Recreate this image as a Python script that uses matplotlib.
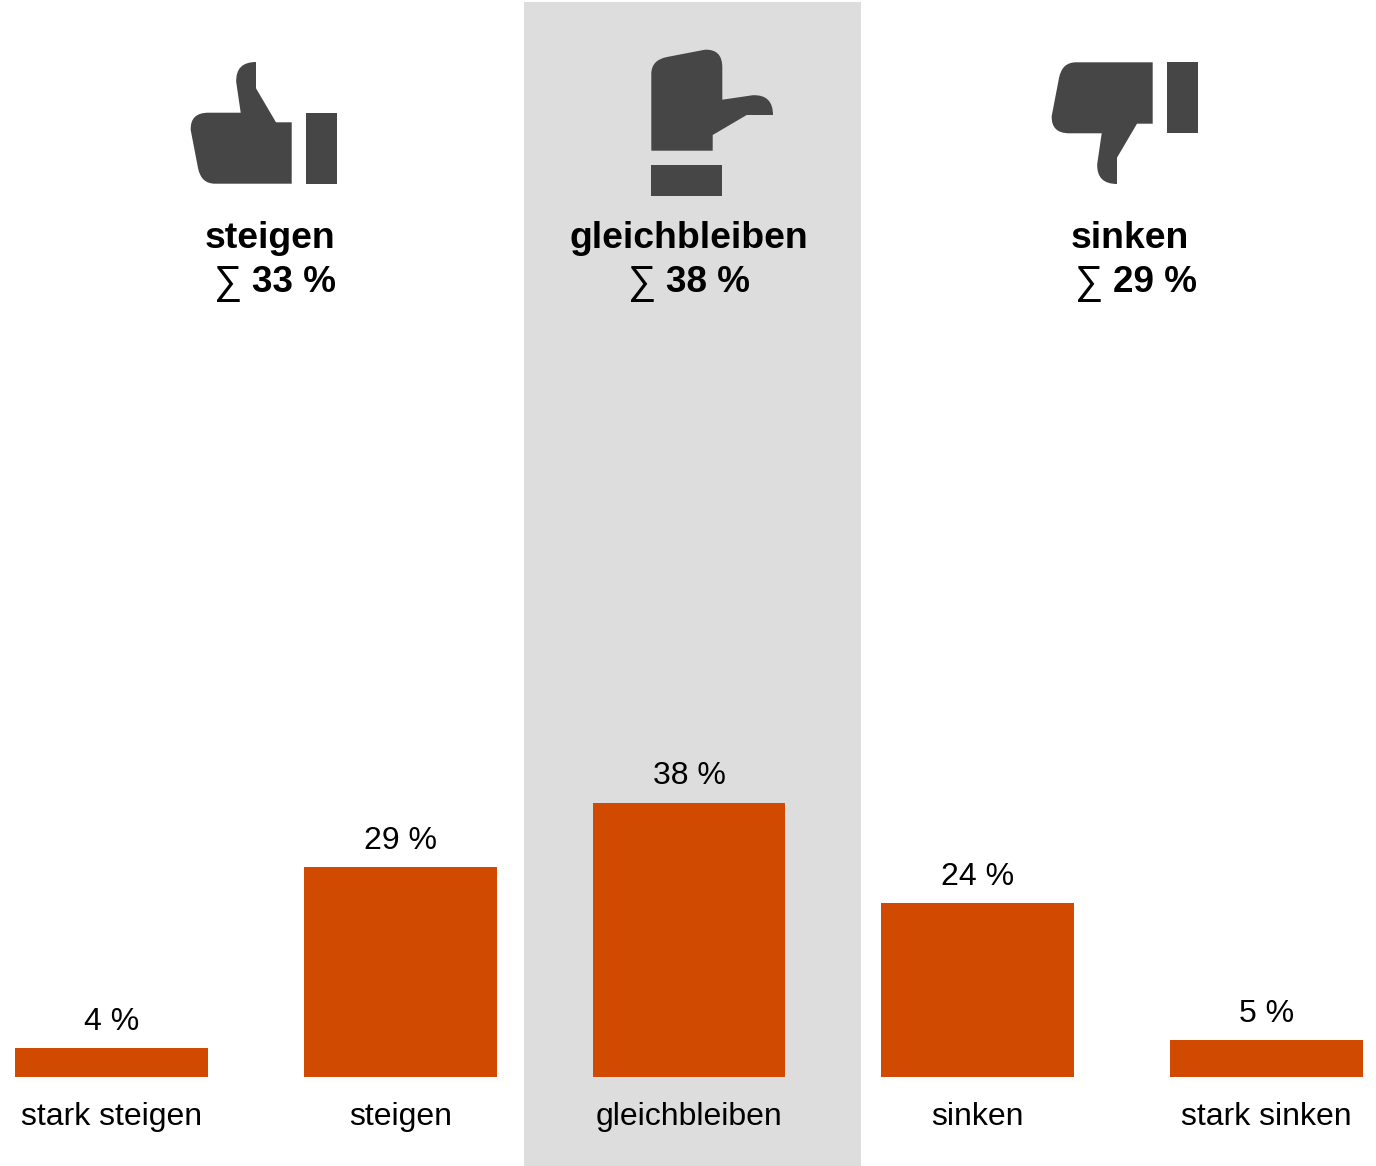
import matplotlib
matplotlib.use('Agg')
import matplotlib.pyplot as plt
from matplotlib.patches import PathPatch, Rectangle
from matplotlib.path import Path
from matplotlib.transforms import Affine2D

plt.rcParams['font.family'] = ['Liberation Sans', 'DejaVu Sans']

#________________________________DATA________________________________
categories = ['stark steigen', 'steigen', 'gleichbleiben', 'sinken', 'stark sinken']
values = [4, 29, 38, 24, 5]
group_names = ['steigen', 'gleichbleiben', 'sinken']
group_sums = [33, 38, 29]

#________________________________STYLE_______________________________
W, H = 1376, 1166
BAR_COLOR = '#D14A02'
ICON_COLOR = '#464646'
BAND_COLOR = '#DDDDDD'

fig = plt.figure(figsize=(W / 100, H / 100), dpi=100, facecolor='white')

# backdrop axes in pixel units, holds the band, the icons and the headers
bg = fig.add_axes([0, 0, 1, 1])
bg.set_xlim(0, W)
bg.set_ylim(H, 0)
bg.axis('off')
bg.add_patch(Rectangle((524, 2), 337, H - 2, color=BAND_COLOR, lw=0))

# thumb icon, hand and cuff
hand = Path(
    [(256, 62), (256, 88.3), (276, 122.3), (291.7, 122.3), (291.7, 183.7),
     (215, 183.7), (201, 183.7), (198, 168), (190.7, 130),
     (190, 112.7), (208.3, 112.7), (240.7, 112.7), (236.2, 82),
     (235.5, 62), (256, 62)],
    [Path.MOVETO, Path.LINETO, Path.LINETO, Path.LINETO, Path.LINETO,
     Path.LINETO, Path.CURVE3, Path.CURVE3, Path.LINETO,
     Path.CURVE3, Path.CURVE3, Path.LINETO, Path.LINETO,
     Path.CURVE3, Path.CURVE3])
cuff = Path([(306, 113), (337, 113), (337, 184), (306, 184), (306, 113)])

icon_moves = [
    Affine2D(),
    Affine2D.from_values(0, 1, -1, 0, 835, -141),  # quarter turn, points right
    Affine2D.from_values(1, 0, 0, -1, 861, 246),   # flipped, points down
]
for move in icon_moves:
    for part in (hand, cuff):
        bg.add_patch(PathPatch(part.transformed(move), fc=ICON_COLOR, ec='none'))

name_x = [270, 689, 1130]
sigma_x = [228, 642, 1089]
sum_x = [293.5, 707.5, 1155]
for i in range(3):
    bg.text(name_x[i], 239, group_names[i], ha='center', va='center',
            fontsize=26.9, fontweight='bold')
    bg.text(sigma_x[i], 283.5, '∑', ha='center', va='center', fontsize=28.5)
    bg.text(sum_x[i], 283, '%d %%' % group_sums[i], ha='center', va='center',
            fontsize=26.6, fontweight='bold')

# bars on their own transparent axes, baseline at y=1076.5 px
ax = fig.add_axes([0, (H - 1076.5) / H, 1, 1076.5 / H])
ax.patch.set_alpha(0)
ax.set_xlim((0 - 111.5) / 288.75, (W - 111.5) / 288.75)
ax.set_ylim(0, 1076.5 / 7.21)
bars = ax.bar(range(5), values, width=0.667, color=BAR_COLOR, linewidth=0)
ax.bar_label(bars, fmt='%d %%', padding=8, fontsize=23)
ax.set_xticks(range(5))
ax.set_xticklabels(categories, fontsize=23)
ax.tick_params(axis='x', length=0, pad=18.5)
ax.set_yticks([])
for side in ax.spines:
    ax.spines[side].set_visible(False)

fig.savefig('out.png', dpi=100)
